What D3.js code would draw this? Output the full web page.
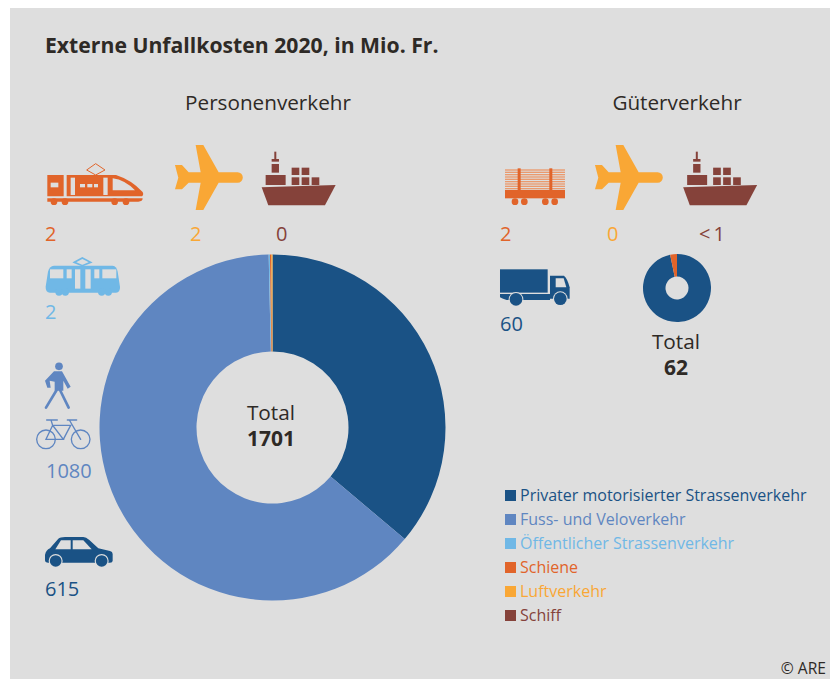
<!DOCTYPE html>
<html lang="de">
<head>
<meta charset="utf-8">
<title>Externe Unfallkosten 2020</title>
<script src="https://d3js.org/d3.v7.min.js"></script>
<style>
html, body { margin: 0; padding: 0; background: #fff; }
svg { display: block; }
text { font-family: "Open Sans", "Noto Sans", sans-serif; }
</style>
</head>
<body>
<div id="chart"></div>
<script>
// data
var categories = ["Privater motorisierter Strassenverkehr", "Fuss- und Veloverkehr", "Öffentlicher Strassenverkehr", "Schiene", "Luftverkehr", "Schiff"];
var personenValues = [615, 1080, 2, 2, 2, 0];
var gueterValues = [60, 0, 0, 2, 0, 0];
var gueterShipLabel = "<1";
var personenTotal = 1701;
var gueterTotal = 62;
var colors = ["#1a5285", "#5f86c1", "#70b8e6", "#e1642a", "#f9a735", "#85423a"];

var BG = "#dedede";
var INK = "#2e2a26";

var svg = d3.select("#chart").append("svg").attr("width", 830).attr("height", 679);

svg.append("rect").attr("x", 10).attr("y", 8).attr("width", 820).attr("height", 671).attr("fill", BG);

function label(x, y, txt, size, fill, anchor, weight) {
    return svg.append("text")
        .attr("x", x).attr("y", y)
        .attr("font-size", size)
        .attr("fill", fill)
        .attr("text-anchor", anchor || "start")
        .attr("font-weight", weight || 400)
        .text(txt);
}

label(45, 53, "Externe Unfallkosten 2020, in Mio. Fr.", 21.2, INK, "start", 700);
label(268, 110, "Personenverkehr", 20.7, INK, "middle");
label(677, 110, "Güterverkehr", 20.7, INK, "middle");

// donuts
function donut(cx, cy, outer, inner, values) {
    var pie = d3.pie().sort(null).value(function (d) { return d; });
    var arc = d3.arc().outerRadius(outer).innerRadius(inner);
    svg.append("g").attr("transform", "translate(" + cx + "," + cy + ")")
        .selectAll("path").data(pie(values)).join("path")
        .attr("d", arc)
        .attr("fill", function (d, i) { return colors[i]; });
}
donut(272.5, 427.5, 173, 76, personenValues);
donut(677, 288, 34, 11.5, gueterValues);

label(271, 420, "Total", 20.8, INK, "middle");
label(271, 446, personenTotal, 21, INK, "middle", 700);
label(676, 349, "Total", 20.8, INK, "middle");
label(676, 375, gueterTotal, 21, INK, "middle", 700);

// numbers next to the icons
var [priv, foot, pub, rail, air, ship] = [0, 1, 2, 3, 4, 5];
label(45, 241, personenValues[rail], 20, colors[rail]);
label(190, 241, personenValues[air], 20, colors[air]);
label(276, 241, personenValues[ship], 20, colors[ship]);
label(45, 319, personenValues[pub], 20, colors[pub]);
label(46, 478, personenValues[foot], 20, colors[foot]);
label(45, 596, personenValues[priv], 20, colors[priv]);
label(500, 241, gueterValues[rail], 20, colors[rail]);
label(607, 241, gueterValues[air], 20, colors[air]);
label(699, 241, gueterShipLabel, 20, colors[ship]).attr("letter-spacing", 3);
label(500, 331, gueterValues[priv], 20, colors[priv]);

// legend
var legend = svg.append("g").selectAll("g").data(categories).join("g")
    .attr("transform", function (d, i) { return "translate(505," + (490 + i * 24) + ")"; });
legend.append("rect").attr("width", 11).attr("height", 11)
    .attr("fill", function (d, i) { return colors[i]; });
legend.append("text").attr("x", 15).attr("y", 11)
    .attr("font-size", 16)
    .attr("fill", function (d, i) { return colors[i]; })
    .text(function (d) { return d; });

label(826, 674, "© ARE", 15.6, INK, "end");

// icons, drawn at 3x around an origin so the numbers stay readable
function icon(x, y) {
    return svg.append("g").attr("transform", "translate(" + x + "," + y + ") scale(0.3333)");
}
function boxes(g, list, fill) {
    list.forEach(function (b) {
        g.append("rect").attr("x", b[0]).attr("y", b[1]).attr("width", b[2]).attr("height", b[3]).attr("fill", fill);
    });
}
function dots(g, list, r, fill) {
    list.forEach(function (c) {
        g.append("circle").attr("cx", c[0]).attr("cy", c[1]).attr("r", r).attr("fill", fill);
    });
}

function plane(x, y) {
    icon(x, y).append("path")
        .attr("d", "M623 127H566L520 45H497L512 127H476L456 105H435L445 143L435 178H456L476 158H512L497 240H520L566 158H623A15.5 15.5 0 0 0 623 127Z")
        .attr("fill", colors[air]);
}
function vessel(x, y) {
    var g = icon(x, y);
    g.append("path").attr("d", "M695 172L917 165L885 226H715Z").attr("fill", colors[ship]);
    boxes(g, [[707, 135, 60, 30], [725, 102, 22, 26], [725, 87, 22, 8], [733, 65, 6, 22],
        [785, 113, 23, 22], [815, 113, 23, 22], [785, 142, 23, 23], [815, 142, 23, 23], [845, 142, 23, 23]], colors[ship]);
}

plane(30, 130);
plane(450, 130);
vessel(30, 130);
vessel(451.5, 130);

// passenger train
var train = icon(30, 130);
train.append("path")
    .attr("d", "M52 135H258Q305 150 338 186Q342 194 336 199H52Z")
    .attr("fill", colors[rail]);
boxes(train, [[101, 133, 9, 68], [122, 143, 13, 52], [220, 143, 13, 52], [150, 162, 15, 10], [172, 162, 15, 10], [192, 162, 12, 10]], BG);
boxes(train, [[62, 158, 23, 14]], BG);
train.append("path").attr("d", "M248 145Q285 150 315 181H248Z").attr("fill", BG);
train.append("path").attr("d", "M52 205H338Q338 215 325 215H52Z").attr("fill", colors[rail]);
dots(train, [[72, 215], [105, 215], [254, 215], [288, 215]], 10, colors[rail]);
train.append("path").attr("d", "M170 120L197 101L225 120L197 135Z")
    .attr("fill", "none").attr("stroke", colors[rail]).attr("stroke-width", 3);

// tram
var tram = icon(30, 130);
tram.append("path")
    .attr("d", "M72 407H248Q260 408 263 425L270 470Q271 487 258 488H60Q46 487 47 470L54 425Q58 408 72 407Z")
    .attr("fill", colors[pub]);
boxes(tram, [[60, 418, 40, 27], [110, 418, 15, 27], [135, 418, 16, 58], [166, 418, 16, 58], [193, 418, 15, 27], [217, 418, 42, 27]], BG);
dots(tram, [[87, 486], [106, 486], [215, 486], [235, 486]], 11, colors[pub]);
tram.append("path").attr("d", "M133 397L157 384L182 397L157 407Z")
    .attr("fill", BG).attr("stroke", colors[pub]).attr("stroke-width", 5);

// goods wagon
var wagon = icon(480, 130);
boxes(wagon, d3.range(118, 180, 7).map(function (y) { return [75, y, 180, 4]; }), "#ea9a6e");
boxes(wagon, [[113, 115, 9, 66], [208, 115, 9, 66], [75, 180, 180, 25]], colors[rail]);
dots(wagon, [[105, 215], [133, 215], [196, 215], [224, 215]], 10, colors[rail]);

// truck
var truck = icon(480, 130);
boxes(truck, [[60, 418, 143, 70]], colors[priv]);
truck.append("path").attr("d", "M210 437H252Q262 445 269 472V506H210Z").attr("fill", colors[priv]);
truck.append("path").attr("d", "M60 492H210V510H80Q65 506 60 502Z").attr("fill", colors[priv]);
truck.append("path").attr("d", "M227 445H251L259 472H227Z").attr("fill", BG);
dots(truck, [[108, 508], [241, 506]], 22, BG);
dots(truck, [[108, 508], [241, 506]], 19, colors[priv]);

// pedestrian
var walker = icon(30, 350);
walker.append("circle").attr("cx", 87).attr("cy", 49).attr("r", 11.5).attr("fill", colors[foot]);
walker.append("path").attr("d", "M72 64H96L122 110L113 116L100 92V122H74V95L59 92L62 113L52 113L45 92Z").attr("fill", colors[foot]);
walker.append("path").attr("d", "M80 120L48 173M90 120L116 173")
    .attr("fill", "none").attr("stroke", colors[foot]).attr("stroke-width", 8).attr("stroke-linecap", "round");

// bicycle
var bike = icon(30, 350);
[[48, 268], [152, 268]].forEach(function (c) {
    bike.append("circle").attr("cx", c[0]).attr("cy", c[1]).attr("r", 28)
        .attr("fill", "none").attr("stroke", colors[foot]).attr("stroke-width", 4);
});
bike.append("path").attr("d", "M48 268L68 226L100 268ZM68 226H122L100 268M118 210L152 268M68 226L63 210M50 210H82M112 210H140")
    .attr("fill", "none").attr("stroke", colors[foot]).attr("stroke-width", 4).attr("stroke-linecap", "round");

// car
var car = icon(30, 350);
car.append("path").attr("d", "M45 615Q48 600 60 595L85 566Q90 561 105 561H160Q168 561 178 570L205 595L240 603Q248 605 248 612V632Q248 638 240 638H55Q45 638 45 630Z")
    .attr("fill", colors[priv]);
car.append("path").attr("d", "M76 598L93 571H122V598Z").attr("fill", BG);
car.append("path").attr("d", "M128 571H160L185 598H128Z").attr("fill", BG);
dots(car, [[77, 633], [215, 633]], 21, BG);
dots(car, [[77, 633], [215, 633]], 17.5, colors[priv]);
</script>
</body>
</html>
